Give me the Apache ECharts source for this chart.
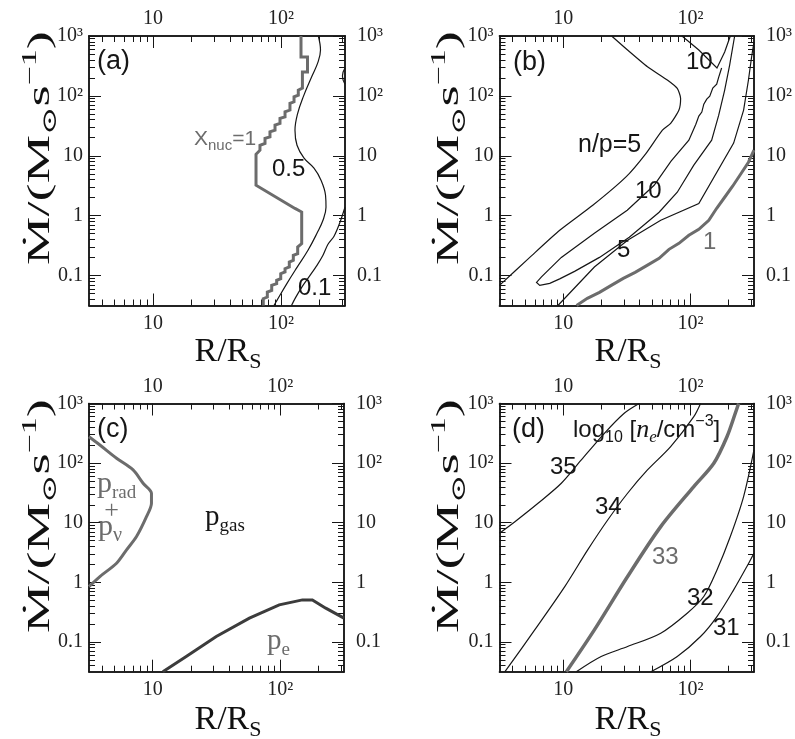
<!DOCTYPE html>
<html><head><meta charset="utf-8">
<script src="https://cdn.jsdelivr.net/npm/echarts@6/dist/echarts.min.js"></script>
<style>html,body{margin:0;padding:0;background:#fff}#c{width:795px;height:739px}</style>
</head><body><div id="c"></div>
<script>
// ---------- axis ticks ----------
const R_MIN = 3.16228, R_MAX = 316.228;
const M_MIN = 0.0316228, M_MAX = 1000;
const xMajorTicks = [10, 100];
const xMajorLabels = ['10', '10²'];
const yMajorTicks = [0.1, 1, 10, 100, 1000];
const yMajorLabels = ['0.1', '1', '10', '10²', '10³'];
const xMinorTicks = [4,5,6,7,8,9,20,30,40,50,60,70,80,90,200,300];
const yMinorTicks = [0.04,0.05,0.06,0.07,0.08,0.09,0.2,0.3,0.4,0.5,0.6,0.7,0.8,0.9,
  2,3,4,5,6,7,8,9,20,30,40,50,60,70,80,90,200,300,400,500,600,700,800,900];

// ---------- panel (a): X_nuc contours  [R/Rs, Mdot] ----------
const aXnuc1 = [[143.3,1000],[143.3,446],[161,446],[161,250],[147,250],[147,135],[136.5,125],[136.5,103],
  [126.4,96.6],[126.4,79.7],[117.5,75],[117.5,58],[107.5,54.2],[107.5,44.7],[98.2,42.1],[98.2,34.7],
  [89.8,32.5],[89.8,26.8],[82.0,25.1],[82.0,20.7],[75.0,19.5],[75.0,16.1],[68.5,15.0],[68.5,12.4],
  [63.8,10.6],[63.8,3.22],[128.6,1.32],[145.1,1.15],[145.1,0.341],[135,0.300],[135,0.232],[124.8,0.218],
  [124.8,0.180],[116.1,0.168],[116.1,0.139],[107.5,0.130],[107.5,0.115],[99.5,0.1076],[99.5,0.0887],
  [92.5,0.0831],[92.5,0.0732],[84.6,0.0686],[84.6,0.0566],[78.2,0.0530],[78.2,0.0437],[72.7,0.0411],[72.7,0.0316]];
const aXnuc05 = [[195.6,1000],[203.5,583],[194.5,367],[174.7,214],[150,99.2],[134.5,49.7],[128.6,26.8],
  [133.4,15.0],[151.4,9.12],[181,6.21],[205.4,3.91],[222.8,2.19],[224.7,1.38],[212.8,0.838],[191,0.508],
  [162.5,0.264],[133.4,0.137],[111.4,0.0741],[93.0,0.0385],[88.1,0.0316]];
const aXnuc01 = [[316,1.38],[289,0.776],[259.6,0.453],[232.8,0.333],[212.8,0.218],[191,0.148],
  [168.6,0.1007],[148.5,0.0686],[135.8,0.0504],[125.3,0.0371],[120.8,0.0316]];
const aXnuc01top = [[316,292],[302,214],[316,157]];

// ---------- panel (b): n/p contours ----------
const bNp5outer = [[24.05,1000],[32.1,583],[46.0,307],[65.9,184],[78.9,133],[83.8,90.8],[81.3,58.0],
  [70.0,34.7],[60.3,26.8],[44.7,10.9],[31.2,4.44],[17.1,1.49],[9.40,0.570],[5.47,0.201],[3.162,0.0686]];
const bNp10tongue = [[176,292],[167,206],[161,157],[150,135],[142,99.2],[134.5,88.3],[127.5,72.9],[123,53.6],
  [116.5,45.9],[110.4,33.7],[97.3,18.2],[70.5,8.13],[51.9,3.22],[31.9,1.23],[17.6,0.508],[9.68,0.201],
  [6.76,0.0951],[6.18,0.0769],[6.55,0.0686],[7.85,0.0741],[9.40,0.0881],[12.3,0.1175],[19.3,0.201],
  [33.1,0.436],[56.8,1.14],[78.9,2.46],[106.4,6.97],[147,18.2],[167,47.7],[186,125],[203.5,327],[222.8,1000]];
const bNp10top = [[85.9,1000],[116.5,583],[161.8,292],[186,540],[206,1000]];
const bNp5inner = [[9.10,0.0316],[17.6,0.139],[32.1,0.388],[58.5,0.838],[116.5,1.59],[218.8,16.3],
  [262,58.0],[286,184],[302,429],[316,794]];
const bNp1 = [[12.75,0.0316],[15.5,0.0416],[19.3,0.0524],[23.9,0.0686],[29.7,0.0897],[36.8,0.113],
  [45.7,0.148],[56.8,0.194],[67.9,0.274],[81.3,0.345],[97.3,0.470],[116.5,0.593],[139.6,0.838],
  [161,1.33],[186,2.03],[214.7,3.10],[248,4.92],[286,7.81],[316,12.4]];

// ---------- panel (c): pressure boundaries ----------
const cRadNu = [[3.162,277],[3.85,201],[5.20,120.5],[7.01,76.7],[8.40,45.9],[9.77,31.2],[9.77,21.2],
  [8.93,12.6],[7.46,5.85],[6.23,3.50],[5.20,2.09],[3.85,1.25],[3.162,0.847]];
const cPe = [[12.0,0.0316],[18.3,0.0569],[31.5,0.123],[57.3,0.250],[98.2,0.418],[149.3,0.507],
  [178.7,0.507],[227.5,0.368],[316,0.250]];

// ---------- panel (d): log10 n_e contours ----------
const d35 = [[3.162,6.67],[4.18,10.4],[6.35,21.2],[9.68,45.9],[13.9,113],[21.1,316],[30.2,685],[39.6,1000]];
const d34 = [[3.49,0.0316],[5.98,0.159],[10.3,0.847],[15.6,3.50],[22.4,11.1],[32.1,31.2],[46.0,76.7],
  [70.0,189],[106.4,601],[120.2,1000]];
const d33 = [[10.6,0.0316],[17.6,0.159],[32.1,1.25],[58.5,8.59],[106.4,40.3],[152.8,99.3],[193.9,277],
  [225.4,685],[239.3,1000]];
const d32 = [[12.7,0.0316],[19.9,0.0569],[32.1,0.0836],[58.5,0.140],[94.4,0.303],[127.5,0.577],
  [161.8,1.61],[206,5.85],[262,27.4],[316,166]];
const d31 = [[48.9,0.0316],[78.9,0.0569],[120.2,0.123],[161.8,0.266],[218.8,0.746],[278,1.84],[316,3.08]];

// ---------- layout ----------
const SANS = '"Liberation Sans", Arial, sans-serif';
const SERIF = '"Liberation Serif", "DejaVu Serif", serif';
const BLACK = '#161616', GRAY = '#6c6c6c';
const grids = [
  {left: 89, top: 36, width: 256, height: 269.5},
  {left: 499.5, top: 36, width: 256.5, height: 269.5},
  {left: 89, top: 403.5, width: 255, height: 268.2},
  {left: 499.5, top: 403.5, width: 256.5, height: 268.2}
];

function fmt(v, ticks, labels) {
  for (let i = 0; i < ticks.length; i++) {
    if (Math.abs(Math.log10(v) - Math.log10(ticks[i])) < 1e-6) return labels[i];
  }
  return '';
}
function axis(dim, g, pos, ticks, len, labels, margin) {
  const a = {
    type: 'log', logBase: 10, gridIndex: g, position: pos,
    min: dim === 'x' ? R_MIN : M_MIN, max: dim === 'x' ? R_MAX : M_MAX,
    axisLine: {show: true, onZero: false, lineStyle: {color: BLACK, width: 1.5}},
    axisTick: {show: true, inside: true, length: len, customValues: ticks, lineStyle: {color: BLACK, width: 1}},
    splitLine: {show: false}, minorTick: {show: false}, minorSplitLine: {show: false}, silent: true
  };
  if (labels) {
    a.axisLabel = {show: true, customValues: ticks, margin: margin,
      formatter: v => fmt(v, ticks, labels),
      fontFamily: SERIF, fontSize: 20, color: '#222'};
  } else {
    a.axisLabel = {show: false};
  }
  return a;
}
const xAxes = [], yAxes = [];
for (let g = 0; g < 4; g++) {
  xAxes.push(axis('x', g, 'bottom', xMajorTicks, 12, xMajorLabels, 8));
  xAxes.push(axis('x', g, 'top', xMajorTicks, 12, xMajorLabels, 7));
  xAxes.push(axis('x', g, 'bottom', xMinorTicks, 6, null));
  xAxes.push(axis('x', g, 'top', xMinorTicks, 6, null));
  yAxes.push(axis('y', g, 'left', yMajorTicks, 12, yMajorLabels, 6));
  yAxes.push(axis('y', g, 'right', yMajorTicks, 12, yMajorLabels, 12));
  yAxes.push(axis('y', g, 'left', yMinorTicks, 6, null));
  yAxes.push(axis('y', g, 'right', yMinorTicks, 6, null));
}
function line(g, data, color, width, smooth, step) {
  return {type: 'line', xAxisIndex: g * 4, yAxisIndex: g * 4, data: data, symbol: 'none', showSymbol: false,
    smooth: smooth || false, step: step || false, clip: true, silent: true, animation: false,
    lineStyle: {color: color, width: width, cap: 'butt', join: 'miter'}};
}
const series = [
  line(0, aXnuc1, GRAY, 3),
  line(0, aXnuc05, BLACK, 1.2, 0.4),
  line(0, aXnuc01, BLACK, 1.2, 0.3),
  line(0, aXnuc01top, BLACK, 1.2, 0.5),
  line(1, bNp5outer, BLACK, 1.2, 0.2),
  line(1, bNp10tongue, BLACK, 1.2),
  line(1, bNp10top, BLACK, 1.2),
  line(1, bNp5inner, BLACK, 1.2),
  line(1, bNp1, GRAY, 3),
  line(2, cRadNu, GRAY, 3, 0.3),
  line(2, cPe, '#3c3c3c', 3),
  line(3, d35, BLACK, 1.2, 0.3),
  line(3, d34, BLACK, 1.2, 0.3),
  line(3, d33, GRAY, 3.5, 0.3),
  line(3, d32, BLACK, 1.2, 0.3),
  line(3, d31, BLACK, 1.2, 0.3)
];

// ---------- text annotations ----------
const graphics = [];
function T(x, y, text, fontSize, color, family, align, extra) {
  const el = {type: 'text', x: x, y: y, z: 100, silent: true,
    style: Object.assign({text: text, fontSize: fontSize, fontFamily: family || SANS, fill: color || BLACK,
      align: align || 'left', verticalAlign: 'middle', textAlign: align || 'left', textVerticalAlign: 'middle'}, extra || {})};
  graphics.push(el);
  return el;
}
function rich(main, sub, sup, color, family) {
  const c = color || BLACK, f = family || SANS;
  return {
    m: {fontSize: main, fontFamily: f, fill: c, lineHeight: main + 8},
    s: {fontSize: sub, fontFamily: f, fill: c, lineHeight: sub, verticalAlign: 'bottom'},
    p: {fontSize: sup, fontFamily: f, fill: c, lineHeight: sup, verticalAlign: 'top'}
  };
}
// panel letters
T(97, 62, '(a)', 27); T(513, 63, '(b)', 27); T(97, 430, '(c)', 27); T(512, 430, '(d)', 27);
// (a)
T(194, 139, '{m|X}{s|nuc}{m|=1}', 21, GRAY, SANS, 'left', {rich: rich(21, 15, 15, GRAY)});
T(272, 169, '0.5', 24); T(298, 288, '0.1', 24);
// (b)
T(686, 62, '10', 24); T(578, 145, 'n/p=5', 25); T(635, 191, '10', 24); T(617, 250, '5', 24);
T(703, 242, '1', 24, GRAY);
// (c)
T(97, 484, '{m|p}{s|rad}', 30, GRAY, SERIF, 'left', {rich: rich(30, 19, 19, GRAY, SERIF)});
T(111.5, 511, '+', 26, GRAY, SERIF, 'center');
T(98, 527, '{m|p}{s|ν}', 30, GRAY, SERIF, 'left', {rich: rich(30, 20, 20, GRAY, SERIF)});
T(205, 517, '{m|p}{s|gas}', 29, BLACK, SERIF, 'left', {rich: rich(29, 19, 19, BLACK, SERIF)});
T(267, 641, '{m|p}{s|e}', 29, GRAY, SERIF, 'left', {rich: rich(29, 19, 19, GRAY, SERIF)});
// (d)
const dr = rich(24, 16, 16, BLACK);
dr.i = {fontSize: 26, fontFamily: SERIF, fontStyle: 'italic', fill: BLACK, lineHeight: 32};
dr.ie = {fontSize: 17, fontFamily: SERIF, fontStyle: 'italic', fill: BLACK, lineHeight: 17, verticalAlign: 'bottom'};
T(573, 430, '{m|log}{s|10}{m| [}{i|n}{ie|e}{m|/cm}{p|−3}{m|]}', 24, BLACK, SANS, 'left', {rich: dr});
T(550, 467, '35', 24); T(595, 507, '34', 24); T(652, 557, '33', 24, GRAY); T(687, 598, '32', 24); T(713, 628, '31', 24);
// axis titles
const xr = rich(34, 22, 22, '#111', SERIF);
const yr = rich(32, 20, 20, '#111', SERIF);
[[228, 352], [628, 352], [228, 720], [628, 720]].forEach(p => {
  T(p[0], p[1], '{m|R/R}{s|S}', 34, '#111', SERIF, 'center', {rich: xr});
});
[[41, 148], [450, 148], [41, 516], [450, 516]].forEach(p => {
  const el = T(p[0], p[1], '{m|Ṁ/(M}{s|⊙}{m|s}{p|−1}{m|)}', 32, '#111', SERIF, 'center', {rich: yr});
  el.rotation = Math.PI / 2;
  el.scaleX = 1.7;
});

const chart = echarts.init(document.getElementById('c'), null, {renderer: 'canvas'});
chart.setOption({
  animation: false,
  backgroundColor: '#fff',
  grid: grids,
  xAxis: xAxes,
  yAxis: yAxes,
  series: series,
  graphic: {elements: graphics}
});
</script>
</body></html>
